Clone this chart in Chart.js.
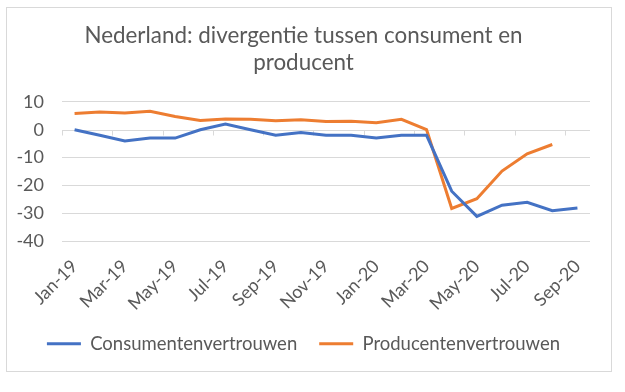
<!DOCTYPE html>
<html lang="nl">
<head>
    <meta charset="UTF-8">
    <title>Nederland: divergentie</title>
    <script src="https://cdn.jsdelivr.net/npm/chart.js"></script>
    <style>
        body {
            margin: 0;
            width: 625px;
            height: 392px;
            background: #fff;
            position: relative;
        }
        #frame {
            position: absolute;
            left: 6px;
            top: 7px;
            width: 604px;
            height: 363px;
            border: 1px solid #d9d9d9;
        }
        #box {
            position: absolute;
            left: 7px;
            top: 8px;
            width: 604px;
            height: 367px;
        }
    </style>
</head>
<body>
    <div id="frame"></div>
    <div id="box"><canvas id="chart"></canvas></div>

    <script>
        const months = ['Jan-19', 'Feb-19', 'Mar-19', 'Apr-19', 'May-19', 'Jun-19', 'Jul-19',
            'Aug-19', 'Sep-19', 'Oct-19', 'Nov-19', 'Dec-19', 'Jan-20', 'Feb-20', 'Mar-20',
            'Apr-20', 'May-20', 'Jun-20', 'Jul-20', 'Aug-20', 'Sep-20'];
        const consument = [0, -2, -4, -3, -3, 0, 2, 0, -2, -1, -2, -2, -3, -2, -2,
            -22, -31, -27, -26, -29, -28];
        const producent = [5.8, 6.3, 6, 6.6, 4.7, 3.3, 3.8, 3.7, 3.2, 3.6, 2.9, 3, 2.5, 3.7, 0,
            -28.2, -24.7, -14.8, -8.6, -5.3, null];
        const yTicks = [10, 0, -10, -20, -30, -40];

        const grey = '#595959';
        const font = 'Lato, "Open Sans", sans-serif';

        // zero line with small tick marks every two months, like Excel
        const zeroAxis = {
            id: 'zeroAxis',
            beforeDatasetsDraw(chart) {
                const x = chart.scales.x, y = chart.scales.y, ctx = chart.ctx;
                const y0 = Math.round(y.getPixelForValue(0)) + 0.5;
                const half = (x.getPixelForValue(1) - x.getPixelForValue(0)) / 2;
                ctx.save();
                ctx.strokeStyle = '#d9d9d9';
                ctx.lineWidth = 1;
                ctx.beginPath();
                ctx.moveTo(x.left, y0);
                ctx.lineTo(x.right, y0);
                for (let i = 0; i <= months.length; i += 2) {
                    const px = Math.round(x.getPixelForValue(i) - half) + 0.5;
                    ctx.moveTo(px, y0);
                    ctx.lineTo(px, y0 + 5);
                }
                ctx.stroke();
                ctx.restore();
            }
        };

        new Chart(document.getElementById('chart'), {
            type: 'line',
            data: {
                labels: months,
                datasets: [{
                    label: 'Consumentenvertrouwen',
                    data: consument,
                    borderColor: '#4472C4',
                    backgroundColor: '#4472C4',
                    borderWidth: 3,
                    pointRadius: 0,
                    tension: 0
                }, {
                    label: 'Producentenvertrouwen',
                    data: producent,
                    borderColor: '#ED7D31',
                    backgroundColor: '#ED7D31',
                    borderWidth: 3,
                    pointRadius: 0,
                    tension: 0
                }]
            },
            options: {
                responsive: true,
                maintainAspectRatio: false,
                animation: false,
                layout: { padding: { left: 10, right: 21, top: 10, bottom: 12 } },
                plugins: {
                    title: {
                        display: true,
                        text: ['Nederland: divergentie tussen consument en', 'producent'],
                        color: grey,
                        font: { family: font, size: 22.4, weight: 'normal', lineHeight: 1.2 },
                        padding: { top: 4, bottom: 26 }
                    },
                    legend: {
                        position: 'bottom',
                        labels: {
                            color: grey,
                            font: { family: font, size: 18.5 },
                            boxWidth: 34,
                            boxHeight: 3,
                            padding: 22,
                            generateLabels(chart) {
                                return Chart.defaults.plugins.legend.labels.generateLabels(chart)
                                    .map(l => ({ ...l, lineWidth: 0 }));
                            }
                        }
                    },
                    tooltip: { enabled: false }
                },
                scales: {
                    x: {
                        offset: true,
                        grid: { display: false, drawTicks: false },
                        border: { display: false },
                        // rotated labels may hang over the y labels, as in Excel
                        afterFit: s => { s.paddingLeft = 0; s.paddingRight = 0; s.height = 71; },
                        ticks: {
                            autoSkip: false,
                            maxRotation: 45,
                            minRotation: 45,
                            padding: 14,
                            color: grey,
                            font: { family: font, size: 18 },
                            callback: (v, i) => i % 2 === 0 ? months[i] : ''
                        }
                    },
                    y: {
                        min: -40,
                        max: 10,
                        afterBuildTicks: s => { s.ticks = yTicks.map(v => ({ value: v })); },
                        afterFit: s => { s.width = 45; },
                        grid: { color: c => c.tick.value === 0 ? 'rgba(0,0,0,0)' : '#d9d9d9', drawTicks: false },
                        border: { display: false },
                        ticks: {
                            padding: 18,
                            color: grey,
                            font: { family: font, size: 18 }
                        }
                    }
                }
            },
            plugins: [zeroAxis]
        });
    </script>
</body>
</html>
